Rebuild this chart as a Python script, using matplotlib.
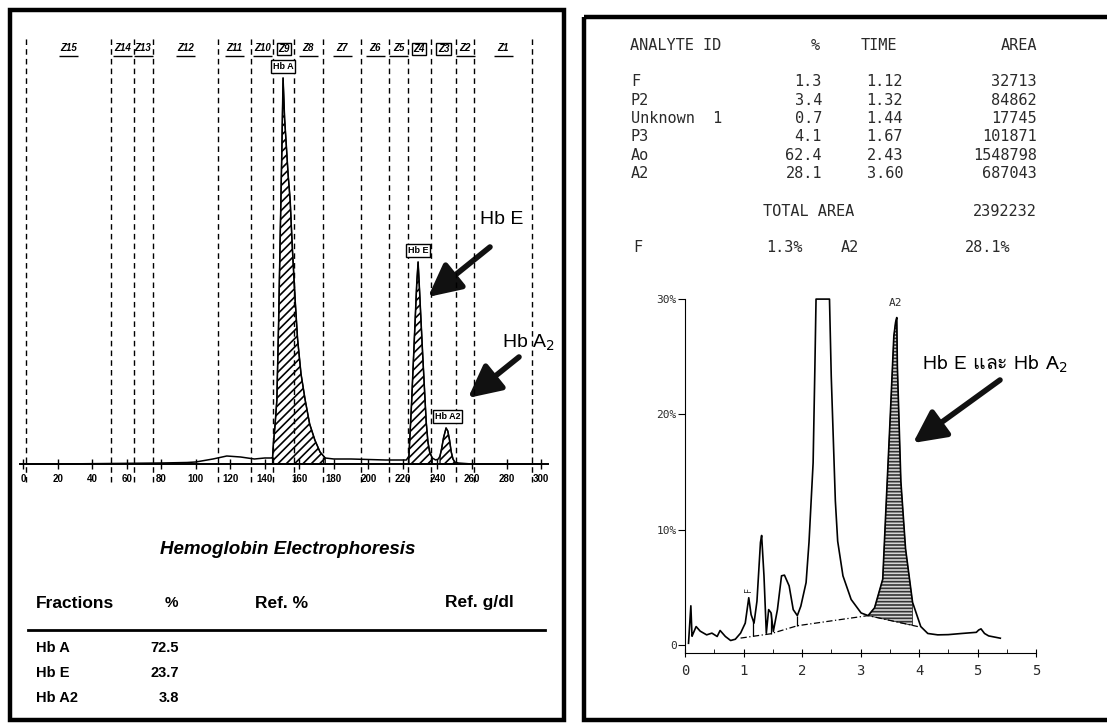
import numpy as np
import matplotlib
matplotlib.use("Agg")
import matplotlib.pyplot as plt
from matplotlib.patches import Rectangle
from matplotlib import font_manager
from matplotlib.ft2font import FT2Font

W, H = 1107, 724

# ---- left: capillary electrophoresis scan ----
zone_edges = [2, 51, 64, 75, 113, 132, 145, 157, 173.5, 196, 212, 223, 236, 251, 261, 295]
zone_names = ["Z15", "Z14", "Z13", "Z12", "Z11", "Z10", "Z9", "Z8",
              "Z7", "Z6", "Z5", "Z4", "Z3", "Z2", "Z1"]
boxed_zones = ["Z9", "Z4", "Z3"]

ce_x = [0, 20, 50, 80, 95, 100, 105, 110, 118, 126, 134, 140, 144, 144.5, 145, 146, 147,
        148, 148.9, 149.8, 150.6, 151.5, 152.5, 153.5, 154.7, 156, 157.6, 159, 161, 163.4,
        166, 169, 172, 175, 180, 190, 200, 210, 218, 222, 223.5, 225, 226.5, 228, 228.8,
        229.6, 230.5, 231.5, 232.5, 233.5, 234.5, 235.5, 237, 239, 240.5, 241.5, 242.5,
        243.5, 245, 246, 247, 248, 249, 250, 252, 260, 300]
ce_y = [0, 0, 0.5, 1, 1.5, 2, 3.5, 5, 8, 7, 5, 6, 6, 6, 20, 40, 64,
        140, 224, 305, 386, 345, 318, 290, 264, 215, 164, 125, 90, 64,
        40, 24, 12, 6, 5, 5, 4.5, 4, 4, 4, 8, 60, 120, 180, 202,
        175, 143, 108, 75, 42, 22, 12, 6, 4, 5, 8, 16,
        26, 36, 33, 24, 12, 5, 2, 1, 0, 0]

peak_spans = [(144.4, 176), (223.4, 238), (241, 250)]
peak_names = ["Hb A", "Hb E", "Hb A2"]
peak_pos = [150.6, 228.8, 246.0]
peak_top = [386, 202, 36]

fractions = ["Hb A", "Hb E", "Hb A2"]
fraction_pct = ["72.5", "23.7", "3.8"]

# ---- right: HPLC chromatogram ----
rt_x = [0.06, 0.10, 0.12, 0.14, 0.19, 0.26, 0.37, 0.46, 0.55, 0.60, 0.69, 0.78, 0.86,
        0.95, 1.03, 1.09, 1.13, 1.18, 1.23, 1.29, 1.31, 1.35, 1.39, 1.43, 1.47, 1.51,
        1.58, 1.65, 1.70, 1.78, 1.85, 1.92, 1.98, 2.07, 2.12, 2.19, 2.22, 2.24, 2.47,
        2.50, 2.57, 2.61, 2.70, 2.84, 3.01, 3.13, 3.24, 3.38, 3.43, 3.51, 3.57, 3.60,
        3.62, 3.63, 3.69, 3.77, 3.89, 4.03, 4.15, 4.32, 4.50, 4.73, 4.98, 5.02, 5.06,
        5.12, 5.19, 5.39]
rt_y = [0.15, 3.4, 0.76, 1.0, 1.6, 1.2, 0.88, 1.03, 0.74, 1.26, 0.74, 0.39, 0.5,
        1.03, 1.9, 4.1, 2.63, 1.9, 3.8, 8.9, 9.5, 6.0, 1.03, 3.07, 2.8, 1.18,
        3.07, 6.0, 6.06, 5.13, 3.07, 2.55, 3.37, 5.42, 8.93, 15.8, 24.0, 30.0, 30.0,
        23.3, 12.5, 9.0, 6.0, 3.95, 2.78, 2.55, 3.22, 5.7, 11.3, 20.0, 26.8, 28.0,
        28.4, 24.2, 14.2, 8.35, 3.7, 1.6, 1.0, 0.88, 0.9, 1.0, 1.1, 1.3, 1.4,
        1.0, 0.79, 0.59]
base_x = [0.95, 1.46, 1.92, 3.13, 3.98]
base_y = [0.6, 0.97, 1.67, 2.55, 1.6]
drop_x = [1.17, 1.39, 1.47, 1.92]
a2_span = (3.13, 3.98)
rt_ticks = [0, 1, 2, 3, 4, 5, 6]
rt_ticklabels = ["0", "1", "2", "3", "4", "5", "5"]
pct_ticks = [0, 10, 20, 30]
pct_ticklabels = ["0", "10%", "20%", "30%"]

report_head = ["ANALYTE ID", "%", "TIME", "AREA"]
analytes = ["F", "P2", "Unknown  1", "P3", "Ao", "A2"]
analyte_pct = ["1.3", "3.4", "0.7", "4.1", "62.4", "28.1"]
analyte_time = ["1.12", "1.32", "1.44", "1.67", "2.43", "3.60"]
analyte_area = ["32713", "84862", "17745", "101871", "1548798", "687043"]
total_area = "2392232"

# font that can draw the Thai word
thai_font = None
for f in font_manager.fontManager.ttflist:
    try:
        if 0x0E41 in FT2Font(f.fname).get_charmap():
            thai_font = f.name
            break
    except Exception:
        pass
sans = ["Liberation Sans", "DejaVu Sans"]
thai_fam = ([thai_font] if thai_font else []) + sans
mono = "DejaVu Sans Mono"

plt.rcParams["font.family"] = sans
plt.rcParams["hatch.linewidth"] = 1.2

fig = plt.figure(figsize=(W / 100, H / 100), dpi=100)


def px_axes(l, t, r, b):
    return fig.add_axes([l / W, 1 - b / H, (r - l) / W, (b - t) / H])


# overlay in pixel units for frames and free text
ov = px_axes(0, 0, W, H)
ov.set_xlim(0, W)
ov.set_ylim(H, 0)
ov.axis("off")
ov.add_patch(Rectangle((10, 10), 554, 710, fill=False, lw=3.2, ec="black"))
ov.add_patch(Rectangle((584, 17), 540, 703, fill=False, lw=3.2, ec="black"))

# ---------- left chart ----------
ax = px_axes(14.4, 34, 558.3, 489)
ax.set_xlim(-5, 310)
ax.set_ylim(-25, 430)
ax.patch.set_alpha(0)
for s in ["top", "right", "left"]:
    ax.spines[s].set_visible(False)
ax.spines["bottom"].set_position(("data", 0))
ax.spines["bottom"].set_bounds(-2, 304)
ax.spines["bottom"].set_linewidth(1.4)
ax.set_yticks([])
ax.set_xticks(range(0, 301, 20))
ax.tick_params(axis="x", direction="inout", length=7, width=1, labelsize=7, pad=4)
for lab in ax.get_xticklabels():
    lab.set_fontweight("bold")
ax.vlines(zone_edges, -18, 426, colors="black", linestyles=(0, (4, 3)), lw=1.0)
mids = [(a + b) / 2 for a, b in zip(zone_edges[:-1], zone_edges[1:])]
for m, name in zip(mids, zone_names):
    if name in boxed_zones:
        ax.text(m, 415, name, ha="center", va="center", fontsize=7, style="italic",
                fontweight="bold", bbox=dict(boxstyle="square,pad=0.15", fc="white", ec="black", lw=1))
    else:
        ax.text(m, 416, name, ha="center", va="center", fontsize=7, style="italic",
                fontweight="bold")
        ax.hlines(408, m - 5.5, m + 5.5, colors="black", lw=1.0)

xs = np.array(ce_x, dtype=float)
ys = np.array(ce_y, dtype=float)
ax.plot(xs, ys, color="black", lw=1.1)
for lo, hi in peak_spans:
    m = (xs >= lo) & (xs <= hi)
    ax.fill_between(xs[m], 0, ys[m], facecolor="white", edgecolor="black", hatch="////", lw=0.9)
for name, px, top in zip(peak_names, peak_pos, peak_top):
    ax.text(px, top + 7, name, ha="center", va="bottom", fontsize=6.5, fontweight="bold",
            bbox=dict(boxstyle="square,pad=0.2", fc="white", ec="black", lw=1))

# annotations on the left
ov.text(480, 219, "Hb E", ha="left", va="center", fontsize=14)
ov.text(502, 343, "Hb A$_2$", ha="left", va="center", fontsize=14)
arrow = dict(arrowstyle="-|>,head_length=0.9,head_width=0.45", lw=4, color="#111111",
             shrinkA=0, shrinkB=0, mutation_scale=22)
ov.annotate("", xy=(428, 297), xytext=(490, 247), arrowprops=arrow)
ov.annotate("", xy=(468, 398), xytext=(519, 357), arrowprops=arrow)

# fraction table
ov.text(288, 550, "Hemoglobin Electrophoresis", ha="center", va="center", fontsize=13.5,
        style="italic", fontweight="bold")
ov.text(36, 603, "Fractions", ha="left", va="center", fontsize=12.5, fontweight="bold")
ov.text(171, 603, "%", ha="center", va="center", fontsize=11, fontweight="bold")
ov.text(255, 603, "Ref. %", ha="left", va="center", fontsize=12.5, fontweight="bold")
ov.text(445, 603, "Ref. g/dl", ha="left", va="center", fontsize=12.5, fontweight="bold")
ov.plot([28, 545], [630, 630], color="black", lw=2)
for i, (name, val) in enumerate(zip(fractions, fraction_pct)):
    y = 648 + i * 25
    ov.text(36, y, name, ha="left", va="center", fontsize=10.5, fontweight="bold")
    ov.text(179, y, val, ha="right", va="center", fontsize=10.5, fontweight="bold")

# ---------- right report text ----------
tc = "#2a2a2a"
ov.text(630, 46, report_head[0], ha="left", va="center", fontsize=11, family=mono, color=tc)
ov.text(815, 46, report_head[1], ha="center", va="center", fontsize=11, family=mono, color=tc)
ov.text(861, 46, report_head[2], ha="left", va="center", fontsize=11, family=mono, color=tc)
ov.text(1037, 46, report_head[3], ha="right", va="center", fontsize=11, family=mono, color=tc)
for i in range(len(analytes)):
    y = 82 + i * 18.3
    ov.text(631, y, analytes[i], ha="left", va="center", fontsize=11, family=mono, color=tc)
    ov.text(822, y, analyte_pct[i], ha="right", va="center", fontsize=11, family=mono, color=tc)
    ov.text(903, y, analyte_time[i], ha="right", va="center", fontsize=11, family=mono, color=tc)
    ov.text(1037, y, analyte_area[i], ha="right", va="center", fontsize=11, family=mono, color=tc)
ov.text(763, 211, "TOTAL AREA", ha="left", va="center", fontsize=11, family=mono, color=tc)
ov.text(1037, 211, total_area, ha="right", va="center", fontsize=11, family=mono, color=tc)
ov.text(633, 247, "F", ha="left", va="center", fontsize=11, family=mono, color=tc)
ov.text(766, 247, analyte_pct[0] + "%", ha="left", va="center", fontsize=11, family=mono, color=tc)
ov.text(841, 247, "A2", ha="left", va="center", fontsize=11, family=mono, color=tc)
ov.text(965, 247, analyte_pct[5] + "%", ha="left", va="center", fontsize=11, family=mono, color=tc)

# ---------- right chart ----------
bx = px_axes(667.45, 281.8, 1047.7, 662.3)
bx.set_xlim(-0.3, 6.2)
bx.set_ylim(-1.5, 31.5)
bx.patch.set_alpha(0)
for s in ["top", "right"]:
    bx.spines[s].set_visible(False)
bx.spines["left"].set_position(("data", 0))
bx.spines["left"].set_bounds(-0.7, 30)
bx.spines["bottom"].set_position(("data", -0.7))
bx.spines["bottom"].set_bounds(0, 6)
bx.set_xticks(rt_ticks)
bx.set_xticklabels(rt_ticklabels, family=mono, fontsize=10, color=tc)
bx.set_xticks(np.arange(0.5, 6, 1), minor=True)
bx.set_yticks(pct_ticks)
bx.set_yticklabels(pct_ticklabels, family=mono, fontsize=8, color=tc)
bx.tick_params(axis="x", which="major", direction="inout", length=6, pad=5)
bx.tick_params(axis="x", which="minor", direction="in", length=3)
bx.tick_params(axis="y", direction="out", length=5, pad=1)

rx = np.array(rt_x)
ry = np.array(rt_y)
bx.plot(rx, ry, color="black", lw=1.2)
bx.plot(base_x, base_y, color="black", lw=0.9, linestyle=(0, (5, 2, 1, 2)))
for d in drop_x:
    bx.vlines(d, np.interp(d, base_x, base_y), np.interp(d, rx, ry), colors="black", lw=0.9)
m = (rx >= a2_span[0]) & (rx <= a2_span[1])
bx.fill_between(rx[m], np.interp(rx[m], base_x, base_y), ry[m], facecolor="#d6d6d6",
                edgecolor="#333333", hatch="-----", lw=0.6)
bx.text(3.6, 29.2, "A2", ha="center", va="bottom", fontsize=8, family=mono, color=tc)
bx.text(1.09, 4.6, "F", ha="center", va="bottom", fontsize=6, family=mono, rotation=90, color=tc)

ov.text(922, 364, "Hb E และ Hb A$_2$", ha="left", va="center", fontsize=14, family=thai_fam)
ov.annotate("", xy=(913, 443), xytext=(1000, 380), arrowprops=arrow)

plt.savefig("out.png", dpi=100)
